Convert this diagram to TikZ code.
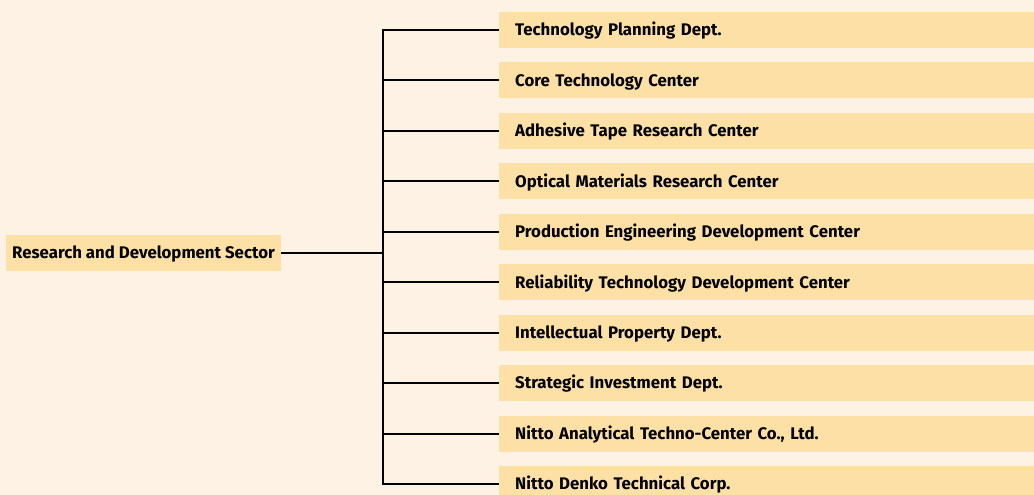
\documentclass[tikz,border=0pt]{standalone}
\usepackage{fontspec}
\setmainfont{Fira Sans}
\usetikzlibrary{positioning}
\definecolor{paper}{RGB}{254,242,228}
\definecolor{boxfill}{RGB}{253,224,165}

\begin{document}
\begin{tikzpicture}[x=1pt,y=-1pt,node distance=50.44pt,on grid,
		font=\fontsize{16.8}{19}\selectfont\bfseries,
		sector/.style={rectangle,fill=boxfill,inner xsep=6pt,inner ysep=0pt,minimum height=36pt,
			text height=11.6pt,text depth=0pt},
		dept/.style={rectangle,fill=boxfill,inner xsep=16pt,inner ysep=0pt,minimum height=36pt,
			text height=11.6pt,text depth=0pt,text width=503pt,align=left},
		branch/.style={draw=black,line width=2pt}]
		\useasboundingbox (0,0) rectangle (1034,495);
		\fill[paper] (0,0) rectangle (1034,495);

		\node[sector] (rd)  at (6,253) [anchor=west] {Research and Development Sector};

		\node[dept]  (d1)  at (499,30) [anchor=west] {Technology Planning Dept.};
		\node[dept]  (d2)  [below=of d1]  {Core Technology Center};
		\node[dept]  (d3)  [below=of d2]  {Adhesive Tape Research Center};
		\node[dept]  (d4)  [below=of d3]  {Optical Materials Research Center};
		\node[dept]  (d5)  [below=of d4]  {Production Engineering Development Center};
		\node[dept]  (d6)  [below=of d5]  {Reliability Technology Development Center};
		\node[dept]  (d7)  [below=of d6]  {Intellectual Property Dept.};
		\node[dept]  (d8)  [below=of d7]  {Strategic Investment Dept.};
		\node[dept]  (d9)  [below=of d8]  {Nitto Analytical Techno-Center Co., Ltd.};
		\node[dept]  (d10) [below=of d9]  {Nitto Denko Technical Corp.};

		\coordinate (bus) at (383,0);

		% trunk and feed from the sector
		\draw[branch] (rd.east) -- (rd.east -| bus);
		\draw[branch] (d1.west) -- (d1.west -| bus) -- (d10.west -| bus) -- (d10.west);

		% one branch per department
		\draw[branch] (d2.west -| bus) -- (d2.west);
		\draw[branch] (d3.west -| bus) -- (d3.west);
		\draw[branch] (d4.west -| bus) -- (d4.west);
		\draw[branch] (d5.west -| bus) -- (d5.west);
		\draw[branch] (d6.west -| bus) -- (d6.west);
		\draw[branch] (d7.west -| bus) -- (d7.west);
		\draw[branch] (d8.west -| bus) -- (d8.west);
		\draw[branch] (d9.west -| bus) -- (d9.west);
\end{tikzpicture}
\end{document}
